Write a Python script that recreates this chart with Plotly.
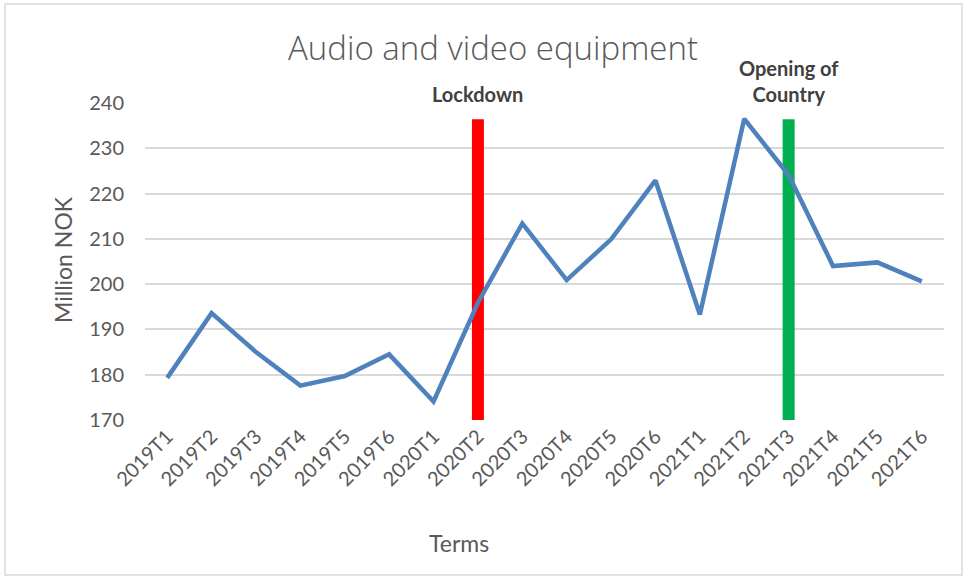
import plotly.graph_objects as go

# Sales of audio and video equipment per two-month term
terms = ["2019T1", "2019T2", "2019T3", "2019T4", "2019T5", "2019T6",
         "2020T1", "2020T2", "2020T3", "2020T4", "2020T5", "2020T6",
         "2021T1", "2021T2", "2021T3", "2021T4", "2021T5", "2021T6"]
sales = [179.3, 193.6, 185.0, 177.6, 179.7, 184.5,
         174.1, 195.9, 213.4, 200.9, 209.9, 222.9,
         193.3, 236.5, 224.1, 204.0, 204.8, 200.6]

# Event markers: term, label, colour
event_terms = ["2020T2", "2021T3"]
event_labels = ["Lockdown", "Opening of<br>Country"]
event_colors = ["#FF0000", "#00B050"]
event_bottom = 170
event_top = 236.4

y_ticks = [170, 180, 190, 200, 210, 220, 230, 240]

TEXT = "#595959"
FONT = "Lato, sans-serif"

# plot area in pixels
L, R, T, B = 145, 944, 103, 420
PW, PH = R - L, B - T

fig = go.Figure()

for term, color in zip(event_terms, event_colors):
    fig.add_trace(go.Scatter(
        x=[term, term], y=[event_bottom, event_top], mode="lines",
        line=dict(color=color, width=12), showlegend=False, hoverinfo="skip"))

fig.add_trace(go.Scatter(
    x=terms, y=sales, mode="lines",
    line=dict(color="#4F81BD", width=4.5), showlegend=False))

for term, label in zip(event_terms, event_labels):
    fig.add_annotation(
        x=term, y=240, xref="x", yref="y", text="<b>" + label + "</b>",
        showarrow=False, yanchor="bottom", yshift=-5,
        font=dict(family=FONT, size=20, color="#404040"))

# axis titles placed as free text
fig.add_annotation(text="Terms", xref="paper", yref="paper",
                   x=(459 - L) / PW, y=(B - 543) / PH, showarrow=False,
                   xanchor="center", yanchor="middle",
                   font=dict(family=FONT, size=23, color=TEXT))
fig.add_annotation(text="Million NOK", xref="paper", yref="paper",
                   x=(63 - L) / PW, y=(B - 260) / PH, showarrow=False,
                   textangle=-90, xanchor="center", yanchor="middle",
                   font=dict(family=FONT, size=23, color=TEXT))

# light frame around the chart
fig.add_shape(type="rect", xref="paper", yref="paper",
              x0=(5 - L) / PW, x1=(962 - L) / PW, y0=(B - 575) / PH, y1=(B - 4) / PH,
              line=dict(color="#D9D9D9", width=1.5), fillcolor="rgba(0,0,0,0)")

fig.update_layout(
    width=965, height=577,
    margin=dict(l=L, r=965 - R, t=T, b=577 - B),
    paper_bgcolor="white", plot_bgcolor="white",
    title=dict(text="Audio and video equipment", x=493 / 965, xanchor="center",
               y=1 - 48 / 577, yanchor="middle",
               font=dict(family="Open Sans, sans-serif", size=33, color=TEXT, weight=300)),
    font=dict(family=FONT, color=TEXT),
)

fig.update_xaxes(
    type="category", categoryorder="array", categoryarray=terms,
    range=[-0.5, len(terms) - 0.5],
    tickangle=-45, tickfont=dict(size=20, color=TEXT),
    showgrid=False, showline=False, ticks="",
)
fig.update_yaxes(
    range=[170, 240], tickvals=y_ticks, showgrid=True,
    gridcolor="#D9D9D9", gridwidth=1.5, zeroline=False, showline=False,
    tickfont=dict(size=20, color=TEXT), ticks="", ticklabelstandoff=20,
)

fig.write_html("out.html")
